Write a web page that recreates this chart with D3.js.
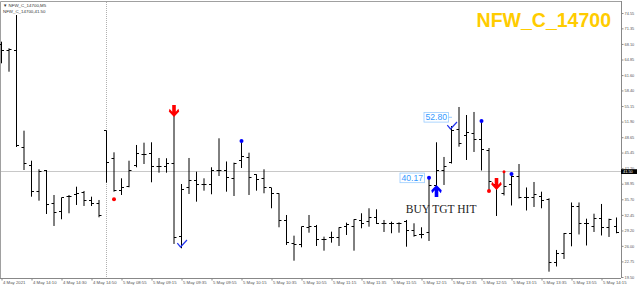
<!DOCTYPE html>
<html>
<head>
<meta charset="utf-8">
<script src="https://cdn.jsdelivr.net/npm/d3@7"></script>
<style>
body { margin: 0; background: #fff; }
svg { display: block; }
</style>
</head>
<body>
<div id="chart"></div>
<script>
// M5 bars, oldest first
var opens  = [67.88, 66.63, 66.63, 46.40, 42.65, 37.23, 41.61, 34.73, 33.06, 36.19,
              36.60, 37.02, 35.35, 34.73, 49.95, 44.11, 37.44, 38.27, 42.65, 44.94,
              45.15, 42.44, 42.44, 43.27, 27.85, 38.06, 39.52, 38.89, 38.89, 41.61,
              41.61, 39.94, 43.69, 44.32, 40.77, 39.94, 38.06, 36.81, 31.18, 26.39,
              26.18, 29.72, 29.93, 27.22, 27.64, 27.64, 29.93, 29.93, 31.18, 30.97,
              32.01, 30.76, 30.76, 30.76, 30.97, 29.30, 28.26, 28.68, 38.48, 41.61,
              43.48, 50.36, 49.11, 49.32, 48.07, 45.78, 38.89, 36.81, 38.69, 40.36,
              35.98, 35.98, 36.19, 35.56, 22.42, 24.30, 28.47, 34.10, 30.70, 29.93,
              31.60, 29.72, 29.93];
var highs  = [68.57, 67.19, 74.13, 50.01, 43.75, 41.96, 41.81, 36.60, 36.04, 36.60,
              38.33, 37.44, 36.25, 35.56, 50.01, 45.50, 40.08, 43.75, 47.03, 47.51,
              47.59, 44.32, 44.26, 53.07, 38.89, 44.32, 41.46, 40.08, 42.38, 48.42,
              43.59, 43.34, 47.86, 45.42, 40.92, 41.96, 38.06, 36.96, 32.43, 28.12,
              29.99, 32.43, 30.35, 27.91, 28.95, 29.87, 30.83, 31.54, 32.79, 33.83,
              33.62, 31.39, 31.04, 30.91, 31.39, 30.70, 29.87, 40.17, 47.59, 44.53,
              50.99, 54.95, 53.28, 53.91, 52.03, 46.40, 38.89, 41.46, 41.08, 43.06,
              38.17, 39.31, 37.29, 35.91, 25.14, 28.68, 35.04, 35.04, 31.66, 32.70,
              34.73, 31.66, 31.91];
var lows   = [64.06, 62.31, 46.61, 41.81, 36.25, 35.41, 32.64, 30.14, 31.54, 32.79,
              34.52, 34.31, 34.31, 31.95, 39.17, 37.29, 36.60, 38.21, 42.38, 43.06,
              39.25, 41.25, 41.25, 26.39, 25.49, 36.81, 35.21, 37.50, 36.75, 40.56,
              37.29, 36.39, 42.23, 36.60, 37.50, 36.96, 33.83, 29.87, 26.18, 22.90,
              25.70, 28.74, 25.97, 24.99, 26.66, 25.97, 28.26, 24.99, 29.66, 29.99,
              30.56, 28.89, 28.62, 28.74, 25.82, 27.91, 27.57, 27.01, 36.19, 38.69,
              43.17, 46.67, 43.90, 45.57, 41.71, 37.44, 32.22, 36.50, 34.41, 35.87,
              33.37, 34.10, 33.83, 20.61, 21.69, 23.26, 25.90, 28.37, 26.07, 28.89,
              28.16, 27.85, 28.62];
var closes = [66.63, 67.04, 46.82, 43.27, 37.23, 41.40, 34.52, 32.85, 35.98, 36.39,
              36.81, 35.35, 34.93, 32.22, 43.48, 37.44, 38.06, 41.81, 45.15, 44.94,
              42.44, 42.44, 43.21, 27.64, 37.85, 39.52, 38.89, 38.89, 41.81, 41.61,
              40.15, 43.27, 44.73, 40.15, 39.73, 38.06, 36.81, 31.18, 26.60, 26.18,
              29.93, 29.93, 27.22, 27.22, 27.64, 29.87, 30.35, 31.54, 30.76, 31.81,
              30.76, 30.76, 30.76, 30.76, 29.30, 28.05, 28.26, 38.48, 41.81, 42.44,
              49.95, 47.44, 49.53, 48.07, 45.99, 39.31, 38.27, 38.27, 40.36, 35.98,
              35.98, 36.60, 35.35, 22.42, 24.30, 28.47, 34.10, 30.70, 30.56, 31.60,
              29.72, 31.54, 28.68];

var yTicks = [74.55, 71.35, 68.10, 64.85, 61.60, 58.40, 55.15, 51.90, 48.65, 45.45,
              42.20, 38.95, 35.70, 32.45, 29.20, 26.00, 22.75, 19.50];
var xTickBars = [0, 4, 8, 12, 16, 20, 24, 28, 32, 36, 40, 44, 48, 52, 56, 60, 64, 68, 72, 76, 80];
var xLabels = ['4 May 2021', '4 May 14:10', '4 May 14:30', '4 May 14:50', '5 May 08:55',
               '5 May 09:15', '5 May 09:35', '5 May 09:55', '5 May 10:15', '5 May 10:35',
               '5 May 10:55', '5 May 11:15', '5 May 11:35', '5 May 11:55', '5 May 12:15',
               '5 May 12:35', '5 May 12:55', '5 May 13:15', '5 May 13:35', '5 May 13:55',
               '5 May 14:15'];

var dayStartBar = 14;
var lastPrice = 41.50;

// signal marks
var dots = [
    {bar: 15, price: 35.71, color: '#ff0000', r: 2},
    {bar: 32, price: 47.86, color: '#0000ff', r: 2},
    {bar: 57, price: 40.17, color: '#0000ff', r: 2},
    {bar: 64, price: 52.03, color: '#0000ff', r: 2},
    {bar: 65, price: 37.44, color: '#ff0000', r: 2},
    {bar: 67, price: 41.46, color: '#ff0000', r: 1.5},
    {bar: 68, price: 40.97, color: '#0000ff', r: 2}
];
var sellArrows = [{bar: 23, price: 52.87}, {bar: 66, price: 37.64}];
var buyArrows = [{bar: 58, price: 38.69}];
var checks = [{bar: 24, price: 25.76}, {bar: 60, price: 50.36}];
var priceLabels = [{bar: 60, price: 52.80, text: '52.80', gap: 3, dash: true},
                   {bar: 57, price: 40.17, text: '40.17', gap: 4.5, dash: false}];
var note = {bar: 53.9, price: 32.78, text: 'BUY TGT HIT'};

var width = 640, height = 288;
var plotRight = 621, plotBottom = 278;

var x = d3.scaleLinear().domain([0, 82]).range([1.5, 616.5]);
var y = d3.scaleLinear().domain([19.50, 74.55]).range([277, 13]);

var svg = d3.select('#chart').append('svg')
    .attr('width', width)
    .attr('height', height);

// frame
svg.append('path')
    .attr('d', 'M0.5,' + plotBottom + 'V1.5H' + plotRight)
    .attr('fill', 'none')
    .attr('stroke', '#a0a0a0');

// day separator
svg.append('line')
    .attr('x1', x(dayStartBar)).attr('x2', x(dayStartBar))
    .attr('y1', 2).attr('y2', plotBottom)
    .attr('stroke', '#b0b0b0')
    .attr('stroke-dasharray', '1,1');

// last price line
svg.append('line')
    .attr('x1', 1).attr('x2', plotRight)
    .attr('y1', y(lastPrice)).attr('y2', y(lastPrice))
    .attr('stroke', '#c8c8c8');

// OHLC bars
var bars = svg.append('g').attr('stroke', '#000').attr('stroke-width', 1);
var idx = d3.range(opens.length);

function snap(v) {
    return Math.round(v - 0.5) + 0.5;
}

bars.selectAll('.hl').data(idx).enter().append('line')
    .attr('x1', function (i) { return x(i); })
    .attr('x2', function (i) { return x(i); })
    .attr('y1', function (i) { return y(highs[i]); })
    .attr('y2', function (i) { return y(lows[i]); });

bars.selectAll('.op').data(idx).enter().append('line')
    .attr('x1', function (i) { return x(i) - 2.5; })
    .attr('x2', function (i) { return x(i); })
    .attr('y1', function (i) { return snap(y(opens[i])); })
    .attr('y2', function (i) { return snap(y(opens[i])); });

bars.selectAll('.cl').data(idx).enter().append('line')
    .attr('x1', function (i) { return x(i); })
    .attr('x2', function (i) { return x(i) + 2.5; })
    .attr('y1', function (i) { return snap(y(closes[i])); })
    .attr('y2', function (i) { return snap(y(closes[i])); });

// axes
var yAxis = d3.axisRight(y)
    .tickValues(yTicks)
    .tickSize(2)
    .tickPadding(1)
    .tickFormat(d3.format('.2f'));

var gy = svg.append('g')
    .attr('transform', 'translate(' + (plotRight + 0.5) + ',0)')
    .call(yAxis);
gy.select('.domain').remove();
gy.selectAll('line').attr('stroke', '#888');
gy.selectAll('text')
    .attr('font-family', 'Liberation Sans, Arial, sans-serif')
    .attr('font-size', 3.9)
    .attr('fill', '#555');

svg.append('line')
    .attr('x1', plotRight + 0.5).attr('x2', plotRight + 0.5)
    .attr('y1', 1).attr('y2', plotBottom)
    .attr('stroke', '#888');

var xAxis = d3.axisBottom(x)
    .tickValues(xTickBars)
    .tickSize(2)
    .tickPadding(1)
    .tickFormat(function (d, i) { return xLabels[i]; });

var gx = svg.append('g')
    .attr('transform', 'translate(0,' + (plotBottom + 0.5) + ')')
    .call(xAxis);
gx.select('.domain').remove();
gx.selectAll('line').attr('stroke', '#888');
gx.selectAll('text')
    .attr('text-anchor', 'start')
    .attr('dx', 1)
    .attr('dy', '0.5em')
    .attr('font-family', 'Liberation Sans, Arial, sans-serif')
    .attr('font-size', 4.3)
    .attr('fill', '#555');

svg.append('line')
    .attr('x1', 0).attr('x2', plotRight)
    .attr('y1', plotBottom + 0.5).attr('y2', plotBottom + 0.5)
    .attr('stroke', '#888');

// last price tag
svg.append('rect')
    .attr('x', plotRight).attr('y', y(lastPrice) - 2.3)
    .attr('width', 16).attr('height', 4.8)
    .attr('fill', '#000');
svg.append('text')
    .attr('x', plotRight + 2).attr('y', y(lastPrice) + 0.2)
    .attr('dy', '0.35em')
    .attr('font-family', 'Liberation Sans, Arial, sans-serif')
    .attr('font-size', 3.9)
    .attr('fill', '#fff')
    .text(d3.format('.2f')(lastPrice));

// signals
svg.selectAll('.dot').data(dots).enter().append('circle')
    .attr('cx', function (d) { return x(d.bar); })
    .attr('cy', function (d) { return y(d.price); })
    .attr('r', function (d) { return d.r; })
    .attr('fill', function (d) { return d.color; });

var downPath = 'M-1.8,-12H1.8V-5.2L4.4,-8.2L5.2,-5.4L0,0L-5.2,-5.4L-4.4,-8.2L-1.8,-5.2Z';
var upPath = 'M-1.8,12H1.8V5.2L4.4,8.2L5.2,5.4L0,0L-5.2,5.4L-4.4,8.2L-1.8,5.2Z';

svg.selectAll('.sell').data(sellArrows).enter().append('path')
    .attr('transform', function (d) { return 'translate(' + x(d.bar) + ',' + y(d.price) + ')'; })
    .attr('d', downPath)
    .attr('fill', '#ff0000');

svg.selectAll('.buy').data(buyArrows).enter().append('path')
    .attr('transform', function (d) { return 'translate(' + x(d.bar) + ',' + y(d.price) + ')'; })
    .attr('d', upPath)
    .attr('fill', '#0000ff');

svg.selectAll('.check').data(checks).enter().append('path')
    .attr('transform', function (d) { return 'translate(' + (x(d.bar) - 1) + ',' + y(d.price) + ')'; })
    .attr('d', 'M-3.2,-3.8L0,0L6.5,-7')
    .attr('fill', 'none')
    .attr('stroke', '#2233ee')
    .attr('stroke-width', 1.2);

// price boxes
var pl = svg.selectAll('.plabel').data(priceLabels).enter().append('g')
    .attr('transform', function (d) { return 'translate(' + (x(d.bar) - d.gap) + ',' + y(d.price) + ')'; });
pl.append('rect')
    .attr('x', -24.5).attr('y', -4.8)
    .attr('width', 24.5).attr('height', 9.6)
    .attr('fill', '#fff')
    .attr('stroke', '#99ccff')
    .attr('stroke-width', 0.8);
pl.append('text')
    .attr('x', -12.25).attr('y', 0)
    .attr('dy', '0.36em')
    .attr('text-anchor', 'middle')
    .attr('font-family', 'Liberation Sans, Arial, sans-serif')
    .attr('font-size', 8.6)
    .attr('fill', '#3399ff')
    .text(function (d) { return d.text; });
pl.filter(function (d) { return d.dash; }).append('line')
    .attr('x1', 0).attr('x2', 3.5)
    .attr('y1', 0).attr('y2', 0)
    .attr('stroke', '#99ccff');

svg.append('text')
    .attr('x', x(note.bar)).attr('y', y(note.price))
    .attr('font-family', 'Liberation Serif, Times New Roman, serif')
    .attr('font-size', 11.5)
    .attr('fill', '#222')
    .text(note.text);

// header texts
svg.append('text')
    .attr('x', 3).attr('y', 6.5)
    .attr('font-family', 'Liberation Sans, Arial, sans-serif')
    .attr('font-size', 4.4)
    .attr('fill', '#333')
    .text('\u25BC NFW_C_14700,M5');
svg.append('text')
    .attr('x', 3).attr('y', 12.8)
    .attr('font-family', 'Liberation Sans, Arial, sans-serif')
    .attr('font-size', 4.4)
    .attr('fill', '#333')
    .text('NFW_C_14700,41.50');

svg.append('text')
    .attr('x', 611).attr('y', 26.7)
    .attr('text-anchor', 'end')
    .attr('font-family', 'Liberation Sans, Arial, sans-serif')
    .attr('font-weight', 'bold')
    .attr('font-size', 19.5)
    .attr('fill', '#ffcc00')
    .text('NFW_C_14700');
</script>
</body>
</html>
